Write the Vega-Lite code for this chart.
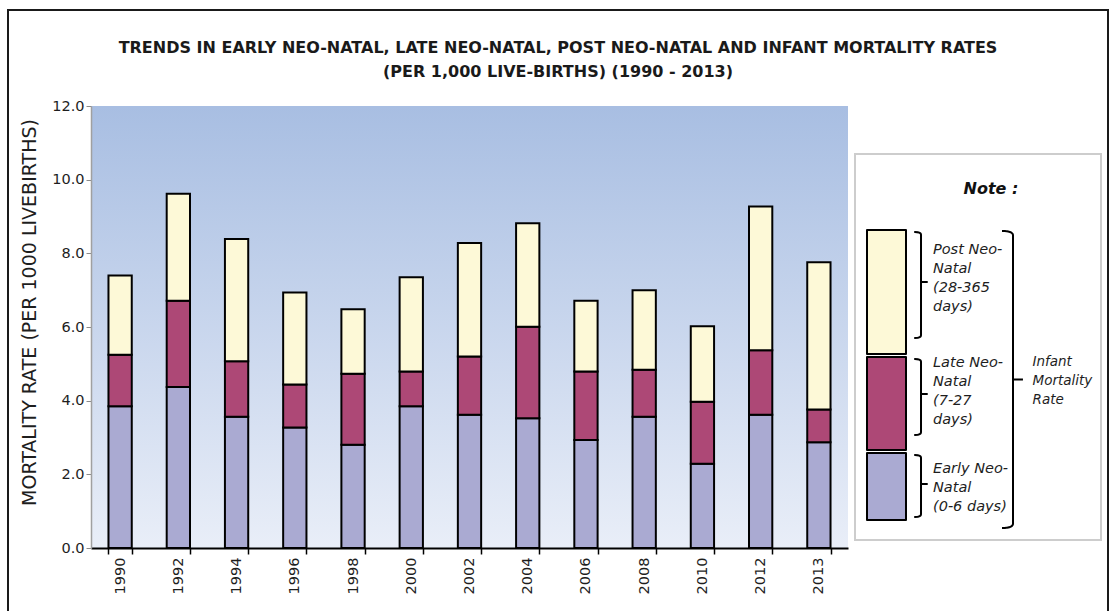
{
  "$schema": "https://vega.github.io/schema/vega-lite/v6.json",
  "width": 757,
  "height": 442,
  "padding": {"left": 7, "top": 9, "right": 0, "bottom": 0},
  "background": "white",
  "data": {
    "values": [
      {"year": "1990", "component": "Early Neo-Natal (0-6 days)", "rate": 3.85, "measure": "Infant Mortality Rate"},
      {"year": "1990", "component": "Late Neo-Natal (7-27 days)", "rate": 1.40, "measure": "Infant Mortality Rate"},
      {"year": "1990", "component": "Post Neo-Natal (28-365 days)", "rate": 2.15, "measure": "Infant Mortality Rate"},
      {"year": "1992", "component": "Early Neo-Natal (0-6 days)", "rate": 4.37, "measure": "Infant Mortality Rate"},
      {"year": "1992", "component": "Late Neo-Natal (7-27 days)", "rate": 2.34, "measure": "Infant Mortality Rate"},
      {"year": "1992", "component": "Post Neo-Natal (28-365 days)", "rate": 2.91, "measure": "Infant Mortality Rate"},
      {"year": "1994", "component": "Early Neo-Natal (0-6 days)", "rate": 3.56, "measure": "Infant Mortality Rate"},
      {"year": "1994", "component": "Late Neo-Natal (7-27 days)", "rate": 1.51, "measure": "Infant Mortality Rate"},
      {"year": "1994", "component": "Post Neo-Natal (28-365 days)", "rate": 3.32, "measure": "Infant Mortality Rate"},
      {"year": "1996", "component": "Early Neo-Natal (0-6 days)", "rate": 3.27, "measure": "Infant Mortality Rate"},
      {"year": "1996", "component": "Late Neo-Natal (7-27 days)", "rate": 1.17, "measure": "Infant Mortality Rate"},
      {"year": "1996", "component": "Post Neo-Natal (28-365 days)", "rate": 2.50, "measure": "Infant Mortality Rate"},
      {"year": "1998", "component": "Early Neo-Natal (0-6 days)", "rate": 2.80, "measure": "Infant Mortality Rate"},
      {"year": "1998", "component": "Late Neo-Natal (7-27 days)", "rate": 1.93, "measure": "Infant Mortality Rate"},
      {"year": "1998", "component": "Post Neo-Natal (28-365 days)", "rate": 1.75, "measure": "Infant Mortality Rate"},
      {"year": "2000", "component": "Early Neo-Natal (0-6 days)", "rate": 3.85, "measure": "Infant Mortality Rate"},
      {"year": "2000", "component": "Late Neo-Natal (7-27 days)", "rate": 0.94, "measure": "Infant Mortality Rate"},
      {"year": "2000", "component": "Post Neo-Natal (28-365 days)", "rate": 2.56, "measure": "Infant Mortality Rate"},
      {"year": "2002", "component": "Early Neo-Natal (0-6 days)", "rate": 3.62, "measure": "Infant Mortality Rate"},
      {"year": "2002", "component": "Late Neo-Natal (7-27 days)", "rate": 1.58, "measure": "Infant Mortality Rate"},
      {"year": "2002", "component": "Post Neo-Natal (28-365 days)", "rate": 3.08, "measure": "Infant Mortality Rate"},
      {"year": "2004", "component": "Early Neo-Natal (0-6 days)", "rate": 3.52, "measure": "Infant Mortality Rate"},
      {"year": "2004", "component": "Late Neo-Natal (7-27 days)", "rate": 2.49, "measure": "Infant Mortality Rate"},
      {"year": "2004", "component": "Post Neo-Natal (28-365 days)", "rate": 2.81, "measure": "Infant Mortality Rate"},
      {"year": "2006", "component": "Early Neo-Natal (0-6 days)", "rate": 2.93, "measure": "Infant Mortality Rate"},
      {"year": "2006", "component": "Late Neo-Natal (7-27 days)", "rate": 1.86, "measure": "Infant Mortality Rate"},
      {"year": "2006", "component": "Post Neo-Natal (28-365 days)", "rate": 1.92, "measure": "Infant Mortality Rate"},
      {"year": "2008", "component": "Early Neo-Natal (0-6 days)", "rate": 3.56, "measure": "Infant Mortality Rate"},
      {"year": "2008", "component": "Late Neo-Natal (7-27 days)", "rate": 1.28, "measure": "Infant Mortality Rate"},
      {"year": "2008", "component": "Post Neo-Natal (28-365 days)", "rate": 2.16, "measure": "Infant Mortality Rate"},
      {"year": "2010", "component": "Early Neo-Natal (0-6 days)", "rate": 2.29, "measure": "Infant Mortality Rate"},
      {"year": "2010", "component": "Late Neo-Natal (7-27 days)", "rate": 1.68, "measure": "Infant Mortality Rate"},
      {"year": "2010", "component": "Post Neo-Natal (28-365 days)", "rate": 2.05, "measure": "Infant Mortality Rate"},
      {"year": "2012", "component": "Early Neo-Natal (0-6 days)", "rate": 3.62, "measure": "Infant Mortality Rate"},
      {"year": "2012", "component": "Late Neo-Natal (7-27 days)", "rate": 1.75, "measure": "Infant Mortality Rate"},
      {"year": "2012", "component": "Post Neo-Natal (28-365 days)", "rate": 3.90, "measure": "Infant Mortality Rate"},
      {"year": "2013", "component": "Early Neo-Natal (0-6 days)", "rate": 2.87, "measure": "Infant Mortality Rate"},
      {"year": "2013", "component": "Late Neo-Natal (7-27 days)", "rate": 0.89, "measure": "Infant Mortality Rate"},
      {"year": "2013", "component": "Post Neo-Natal (28-365 days)", "rate": 4.00, "measure": "Infant Mortality Rate"}
    ]
  },
  "mark": {"type": "bar", "stroke": "black", "strokeWidth": 2},
  "encoding": {
    "x": {
      "field": "year",
      "type": "nominal",
      "scale": {"paddingInner": 0.6, "paddingOuter": 0.3},
      "axis": {
        "title": null,
        "labelAngle": -90,
        "labelFontSize": 14.5,
        "labelColor": "#1e1e1e",
        "domainColor": "black",
        "domainWidth": 2,
        "tickColor": "black",
        "tickWidth": 1.5,
        "tickSize": 6,
        "tickBand": "extent",
        "labelPadding": 3
      }
    },
    "y": {
      "field": "rate",
      "type": "quantitative",
      "stack": "zero",
      "scale": {"domain": [0, 12], "nice": false},
      "axis": {
        "title": "MORTALITY RATE (PER 1000 LIVEBIRTHS)",
        "titleFontSize": 19,
        "titleFontWeight": "normal",
        "titleColor": "#1e1e1e",
        "titlePadding": 12,
        "titleY": 206,
        "values": [0, 2, 4, 6, 8, 10, 12],
        "format": ".1f",
        "labelFontSize": 14.5,
        "labelColor": "#1e1e1e",
        "labelPadding": 2,
        "domainColor": "#a0a0a0",
        "domainWidth": 1.5,
        "tickColor": "#8a8a8a",
        "tickSize": 5,
        "grid": false
      }
    },
    "color": {
      "field": "component",
      "type": "nominal",
      "scale": {
        "domain": ["Post Neo-Natal (28-365 days)", "Late Neo-Natal (7-27 days)", "Early Neo-Natal (0-6 days)"],
        "range": ["#fdf9d7", "#ad4876", "#aaaad2"]
      },
      "legend": {
        "orient": "none",
        "legendX": 775,
        "legendY": 123,
        "title": null,
        "padding": 0,
        "symbolType": "square",
        "symbolSize": 9025,
        "symbolStrokeColor": "black",
        "symbolStrokeWidth": 2,
        "symbolOffset": 0,
        "rowPadding": -9,
        "labelOffset": -30,
        "labelFont": "DejaVu Sans",
        "labelFontSize": 14.5,
        "labelFontStyle": "italic",
        "labelColor": "#1e1e1e",
        "labelBaseline": "middle",
        "labelExpr": "datum.label == 'Post Neo-Natal (28-365 days)' ? ['Post Neo-', 'Natal', '(28-365', 'days)'] : datum.label == 'Late Neo-Natal (7-27 days)' ? ['Late Neo-', 'Natal', '(7-27', 'days)'] : ['Early Neo-', 'Natal', '(0-6 days)']",
        "encode": {
          "labels": {
            "update": {
              "lineHeight": {"value": 19},
              "dy": {"signal": "datum.value == 'Post Neo-Natal (28-365 days)' ? -27.5 : datum.value == 'Late Neo-Natal (7-27 days)' ? -41.5 : -31.5"}
            }
          },
          "symbols": {
            "update": {
              "shape": {"signal": "datum.value == 'Post Neo-Natal (28-365 days)' ? 'M-1,-1H-0.179V1.611H-1Z M0.01,-0.958Q0.137,-0.958 0.137,-0.9V1.216Q0.137,1.274 0.01,1.274Q0.137,1.274 0.137,1.216V-0.9Q0.137,-0.958 0.01,-0.958Z M0.137,0.095H0.263Z' : datum.value == 'Late Neo-Natal (7-27 days)' ? 'M-1,-1H-0.179V0.958H-1Z M0.01,-0.958Q0.137,-0.958 0.137,-0.9V0.584Q0.137,0.642 0.01,0.642Q0.137,0.642 0.137,0.584V-0.9Q0.137,-0.958 0.01,-0.958Z M0.137,-0.221H0.263Z' : 'M-1,-1H-0.179V0.411H-1Z M0.01,-0.958Q0.137,-0.958 0.137,-0.9V0.289Q0.137,0.347 0.01,0.347Q0.137,0.347 0.137,0.289V-0.9Q0.137,-0.958 0.01,-0.958Z M0.137,-0.347H0.263Z'"},
              "stroke": {"value": "black"},
              "strokeWidth": {"value": 2},
              "strokeJoin": {"value": "round"},
              "opacity": {"value": 1}
            }
          }
        }
      }
    },
    "strokeDash": {
      "field": "measure",
      "type": "nominal",
      "scale": {"range": [[1, 0]]},
      "legend": {
        "orient": "none",
        "legendX": 764,
        "legendY": 48,
        "title": "Note :",
        "padding": 8,
        "strokeColor": "#cdcdcd",
        "titleFont": "DejaVu Sans",
        "titleFontSize": 16,
        "titleFontStyle": "italic",
        "titleFontWeight": "bold",
        "titleColor": "#111111",
        "titleAnchor": "middle",
        "titleBaseline": "line-top",
        "titleLineHeight": 55,
        "titlePadding": 52,
        "symbolType": "M-0.074,-1Q0,-1 0,-0.97V0.97Q0,1 -0.074,1M0,0H0.067",
        "symbolSize": 88209,
        "symbolStrokeColor": "black",
        "symbolStrokeWidth": 2,
        "symbolFillColor": "transparent",
        "symbolOffset": 0.5,
        "labelOffset": -130,
        "labelFont": "DejaVu Sans",
        "labelFontSize": 13.5,
        "labelFontStyle": "italic",
        "labelColor": "#1e1e1e",
        "labelExpr": "['Infant', 'Mortality', 'Rate']",
        "encode": {
          "title": {"update": {"dx": {"value": 13}}},
          "labels": {"update": {"lineHeight": {"value": 19}, "dy": {"signal": "-17.5"}}},
          "symbols": {"update": {"stroke": {"value": "black"}, "strokeWidth": {"value": 2}, "fill": {"value": "transparent"}, "opacity": {"value": 1}}}
        }
      }
    },
    "opacity": {
      "field": "measure",
      "type": "ordinal",
      "scale": {"domain": ["Infant Mortality Rate"], "range": [1, 1]},
      "legend": {
        "orient": "none",
        "legendX": -83,
        "legendY": -96,
        "title": ["TRENDS IN EARLY NEO-NATAL, LATE NEO-NATAL, POST NEO-NATAL AND INFANT MORTALITY RATES", "(PER 1,000 LIVE-BIRTHS) (1990 - 2013)"],
        "titleFont": "DejaVu Sans",
        "titleFontSize": 16,
        "titleFontWeight": "bold",
        "titleColor": "#1a1a1a",
        "titleLineHeight": 24,
        "titleAnchor": "middle",
        "titleLimit": 2000,
        "titlePadding": 20,
        "padding": 30,
        "strokeColor": "#1a1a1a",
        "symbolType": "M-1,-1H3.2276V1H-1Z",
        "symbolSize": 242064,
        "symbolFillColor": "transparent",
        "symbolStrokeColor": "transparent",
        "symbolStrokeWidth": 0,
        "symbolOffset": 0,
        "labelOffset": 0,
        "labelExpr": "''"
      }
    },
    "order": {"field": "component", "sort": "ascending"}
  },
  "config": {
    "font": "DejaVu Sans",
    "style": {"guide-label": {"lineHeight": 19}},
    "legend": {"strokeWidth": 2},
    "view": {
      "stroke": null,
      "fill": {
        "gradient": "linear",
        "x1": 0, "y1": 0, "x2": 0, "y2": 1,
        "stops": [
          {"offset": 0, "color": "#a8bee2"},
          {"offset": 1, "color": "#e9eef8"}
        ]
      }
    }
  }
}
